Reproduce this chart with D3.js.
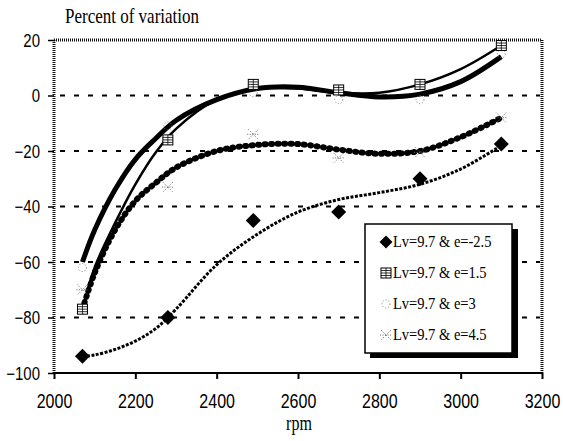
<!DOCTYPE html>
<html>
<head>
<meta charset="utf-8">
<script src="https://cdn.jsdelivr.net/npm/d3@7"></script>
<style>
  body { margin: 0; background: #fff; }
  svg { display: block; }
</style>
</head>
<body>
<svg id="chart" width="563" height="441"></svg>
<script>
// measured points, rpm vs percent of variation
var rpm = [2070, 2280, 2490, 2700, 2900, 3100];
var eMinus25 = [-94, -80, -45, -42, -30, -17.5];
var e15 = [-77, -16, 4, 2, 4, 18];
var e3 = [-62, -11, 1, -1.5, -1.5, 15];
var e45 = [-70, -33, -14, -22.5, -20.5, -8];

// trend lines
var trendRpm = [2070, 2100, 2150, 2200, 2250, 2300, 2400, 2500, 2600, 2700, 2800, 2900, 3000, 3100];
var trendMinus25 = [-94, -93.5, -91.5, -88.5, -84, -77, -61, -50, -42, -37.5, -35, -32, -26.5, -18];
var trend15 = [-77, -62, -46, -32, -20.5, -12, -1.5, 2.5, 2.5, 1, 1, 4, 9.5, 18];
var trend3 = [-60, -48.5, -34, -23, -15.5, -9, -1.5, 2.5, 3, 1, -0.5, 0.5, 5, 14];
var trend45 = [-77, -64, -48.5, -38, -31.5, -26, -20, -17.8, -17.5, -19.5, -21, -20, -15, -8];

var xTicks = [2000, 2200, 2400, 2600, 2800, 3000, 3200];
var yTicks = [20, 0, -20, -40, -60, -80, -100];
var gridTicks = [0, -20, -40, -60, -80];
var legendLabels = ["Lv=9.7 & e=-2.5", "Lv=9.7 & e=1.5", "Lv=9.7 & e=3", "Lv=9.7 & e=4.5"];

var svg = d3.select("#chart");
var pL = 54, pT = 40, pR = 542, pB = 373;

var x = d3.scaleLinear().domain([2000, 3200]).range([pL, pR]);
var y = d3.scaleLinear().domain([-100, 20]).range([pB, pT]);

// title + x label
svg.append("text")
  .attr("transform", "translate(65,23) scale(1,1.25)")
  .attr("font-family", "Liberation Serif")
  .attr("font-size", 17)
  .text("Percent of variation");

svg.append("text")
  .attr("transform", "translate(299,430) scale(1,1.25)")
  .attr("text-anchor", "middle")
  .attr("font-family", "Liberation Serif")
  .attr("font-size", 16)
  .text("rpm");

// dashed grid
svg.append("g").selectAll("line")
  .data(gridTicks)
  .enter().append("line")
  .attr("x1", pL + 6).attr("x2", pR - 2)
  .attr("y1", function(d){ return y(d); })
  .attr("y2", function(d){ return y(d); })
  .attr("stroke", "#000")
  .attr("stroke-width", 2)
  .attr("stroke-dasharray", "5,9");

// hatched frame: top, right, left
svg.append("line").attr("x1", pL).attr("x2", pR).attr("y1", pT).attr("y2", pT)
  .attr("stroke", "#111").attr("stroke-width", 3).attr("stroke-dasharray", "1,1");
svg.append("line").attr("x1", pR).attr("x2", pR).attr("y1", pT).attr("y2", pB)
  .attr("stroke", "#111").attr("stroke-width", 3).attr("stroke-dasharray", "1,1");
svg.append("line").attr("x1", pL).attr("x2", pL).attr("y1", pT).attr("y2", pB)
  .attr("stroke", "#111").attr("stroke-width", 3).attr("stroke-dasharray", "1,1");

// y axis
var yAxis = svg.append("g")
  .attr("transform", "translate(" + pL + ",0)")
  .call(d3.axisLeft(y).tickValues(yTicks).tickSize(6).tickFormat(d3.format("d")));
yAxis.select(".domain").remove();
yAxis.selectAll("line").attr("stroke", "#000").attr("stroke-width", 1.5);
yAxis.selectAll("text")
  .attr("x", -14)
  .attr("dy", "0.35em")
  .attr("transform", "scale(1,1.2)")
  .attr("font-family", "Liberation Sans")
  .attr("font-size", 15)
  .attr("fill", "#000");

// x axis
var xAxis = svg.append("g")
  .attr("transform", "translate(0," + pB + ")")
  .call(d3.axisBottom(x).tickValues(xTicks).tickSize(6).tickFormat(d3.format("d")));
xAxis.select(".domain").attr("stroke", "#000").attr("stroke-width", 2)
  .attr("d", "M" + pL + ",0H" + pR);
xAxis.selectAll("line").attr("stroke", "#000").attr("stroke-width", 2);
xAxis.selectAll("text")
  .attr("y", 28)
  .attr("dy", 0)
  .attr("transform", "scale(1,1.25)")
  .attr("font-family", "Liberation Sans")
  .attr("font-size", 16)
  .attr("fill", "#000");

// trend lines
var line = d3.line()
  .x(function(d){ return x(d[0]); })
  .y(function(d){ return y(d[1]); })
  .curve(d3.curveCatmullRom);

function pairs(vals) {
  return trendRpm.map(function(r, i){ return [r, vals[i]]; });
}

svg.append("path").datum(pairs(trend3)).attr("d", line)
  .attr("fill", "none").attr("stroke", "#000").attr("stroke-width", 5);
svg.append("path").datum(pairs(trend15)).attr("d", line)
  .attr("fill", "none").attr("stroke", "#000").attr("stroke-width", 2.5);
svg.append("path").datum(pairs(trend45)).attr("d", line)
  .attr("fill", "none").attr("stroke", "#000").attr("stroke-width", 6)
  .attr("stroke-linecap", "round").attr("stroke-dasharray", "1,5.5");
svg.append("path").datum(pairs(trendMinus25)).attr("d", line)
  .attr("fill", "none").attr("stroke", "#000").attr("stroke-width", 3)
  .attr("stroke-dasharray", "3,1.5");

// marker drawers
function diamond(g, cx, cy, s) {
  g.append("path")
    .attr("d", "M" + cx + "," + (cy - s) + "L" + (cx + s) + "," + cy + "L" + cx + "," + (cy + s) + "L" + (cx - s) + "," + cy + "Z")
    .attr("fill", "#000");
}
function box(g, cx, cy) {
  g.append("rect").attr("x", cx - 5).attr("y", cy - 5).attr("width", 10).attr("height", 10)
    .attr("fill", "#fff").attr("stroke", "#000").attr("stroke-width", 1);
  [-2.5, 0, 2.5].forEach(function(o){
    g.append("line").attr("x1", cx - 5).attr("x2", cx + 5).attr("y1", cy + o).attr("y2", cy + o)
      .attr("stroke", "#000").attr("stroke-width", 0.8);
  });
  g.append("line").attr("x1", cx).attr("x2", cx).attr("y1", cy - 5).attr("y2", cy + 5)
    .attr("stroke", "#000").attr("stroke-width", 0.8);
}
function ring(g, cx, cy) {
  g.append("circle").attr("cx", cx).attr("cy", cy).attr("r", 4)
    .attr("fill", "none").attr("stroke", "#777").attr("stroke-width", 1)
    .attr("stroke-dasharray", "1,2");
}
function star(g, cx, cy) {
  g.append("path")
    .attr("d", "M" + (cx - 5) + "," + (cy - 5) + "L" + (cx + 5) + "," + (cy + 5) + "M" + (cx + 5) + "," + (cy - 5) + "L" + (cx - 5) + "," + (cy + 5) + "M" + (cx - 6) + "," + cy + "L" + (cx + 6) + "," + cy)
    .attr("stroke", "#666").attr("stroke-width", 1).attr("stroke-dasharray", "1,1.5");
}

var marks = svg.append("g");
rpm.forEach(function(r, i){
  ring(marks, x(r), y(e3[i]));
  star(marks, x(r), y(e45[i]));
  box(marks, x(r), y(e15[i]));
  diamond(marks, x(r), y(eMinus25[i]), 7.5);
});

// legend
var lg = svg.append("g");
lg.append("rect").attr("x", 370).attr("y", 229).attr("width", 148).attr("height", 129).attr("fill", "#000");
lg.append("rect").attr("x", 365).attr("y", 224).attr("width", 147).attr("height", 129)
  .attr("fill", "#fff").attr("stroke", "#000").attr("stroke-width", 1.5);

var drawers = [
  function(g, cx, cy){ diamond(g, cx, cy, 6.5); },
  box, ring, star
];
legendLabels.forEach(function(lab, i){
  var cy = 242 + i * 31;
  drawers[i](lg, 386, cy);
  lg.append("text")
    .attr("transform", "translate(393," + (cy + 5) + ") scale(1,1.15)")
    .attr("font-family", "Liberation Serif")
    .attr("font-size", 14.5)
    .text(lab);
});
</script>
</body>
</html>
